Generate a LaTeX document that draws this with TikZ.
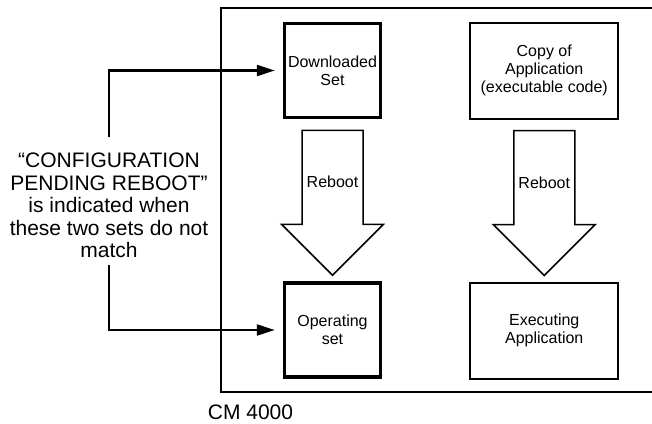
\documentclass[tikz,border=0pt]{standalone}
\usepackage{fontspec}
\setmainfont{Liberation Sans}
\usetikzlibrary{arrows.meta, positioning, calc}
\tikzset{
  setbox/.style = {rectangle, draw, line width=3.5pt, align=center,
    minimum width=96pt, minimum height=94pt, font=\fontsize{16}{18}\selectfont},
  appbox/.style = {rectangle, draw, line width=2pt, align=center,
    minimum width=148pt, minimum height=96pt, font=\fontsize{16}{18}\selectfont},
  rebootarrow/.style = {draw, line width=1.5pt, line join=miter},
  smalltext/.style = {font=\fontsize{16}{18}\selectfont, inner sep=0pt},
  bigtext/.style = {align=center, font=\fontsize{21}{22.5}\selectfont},
  arrow/.style = {line width=2.2pt, -{Triangle[length=18pt, width=11pt]}},
  frame/.style = {line width=2.2pt},
}
\begin{document}
\begin{tikzpicture}[x=1pt, y=-1pt]
  \useasboundingbox (0,0) rectangle (652,423);

  % CM 4000 frame, cut off at the right
  \draw[frame] (652,8) -| (221,392) -- (652,392);
  \node[bigtext] (cmlabel) at (250.5,412) {CM 4000};

  \node[setbox] (dl) at (332.5,70.5) {Downloaded\\Set};
  \node[setbox, below=162pt of dl] (op) {Operating\\set};
  \node[appbox, right=87pt of dl] (cp) {Copy of\\Application\\(executable code)};
  \node[appbox, below=162pt of cp] (ex) {Executing\\Application};

  \foreach \src/\dst in {dl/op, cp/ex} {
    \draw[rebootarrow] ($(\src.south)+(-30.5,11)$) -- ($(\src.south)+(30.5,11)$)
      -- ($(\dst.north)+(30.5,-57)$) -- ($(\dst.north)+(51,-57)$)
      -- ($(\dst.north)+(0,-6)$) -- ($(\dst.north)+(-51,-57)$)
      -- ($(\dst.north)+(-30.5,-57)$) -- cycle;
    \node[smalltext] (reboot\src) at ($(\src.south)+(0,63)$) {Reboot};
  }

  \node[bigtext, inner xsep=0pt, inner ysep=7pt] (note) at (109,205.5)
    {“CONFIGURATION\\PENDING REBOOT”\\is indicated when\\these two sets do not\\match};

  \draw[arrow, shorten <=9pt, shorten >=8pt] (note.north) |- (dl.west);
  \draw[arrow, shorten >=8pt] (note.south) |- (op.west);
\end{tikzpicture}
\end{document}
